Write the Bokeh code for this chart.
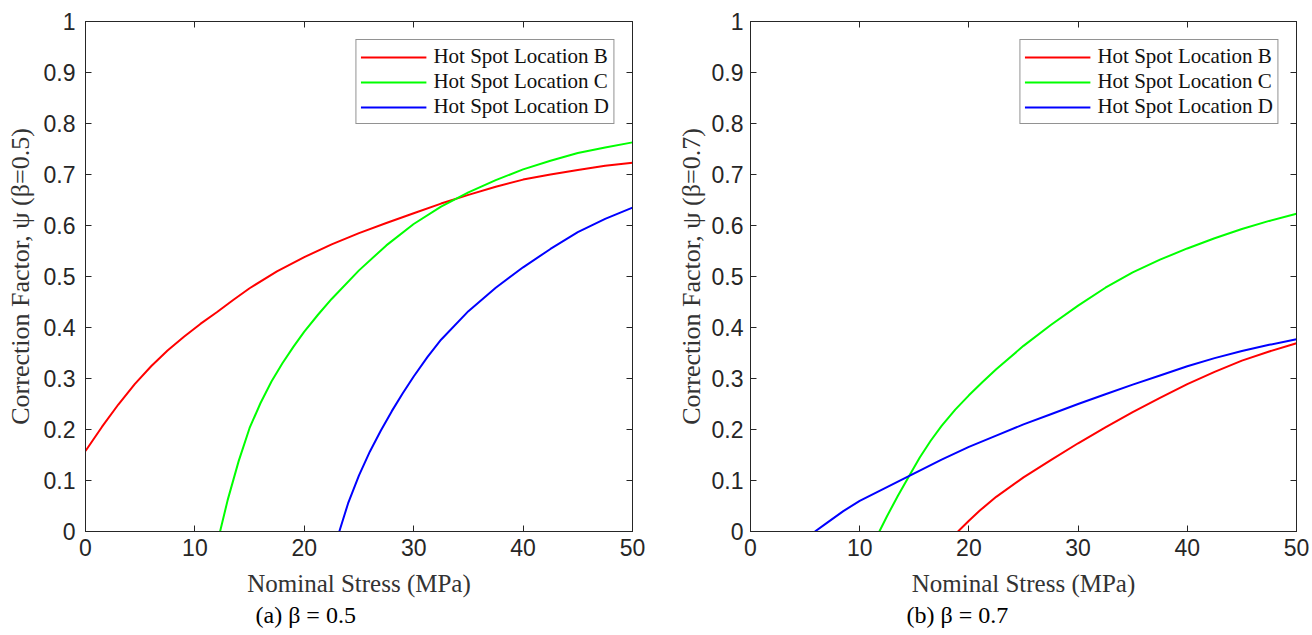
from bokeh.plotting import figure
from bokeh.models import LinearAxis, FixedTicker, Range1d, Title
from bokeh.layouts import row
from bokeh.embed import file_html
from bokeh.resources import INLINE

# ---------------- data ----------------
x_ticks = [0, 10, 20, 30, 40, 50]
x_tick_labels = ["0", "10", "20", "30", "40", "50"]
y_ticks = [0, 0.1, 0.2, 0.3, 0.4, 0.5, 0.6, 0.7, 0.8, 0.9, 1]
y_tick_labels = ["0", "0.1", "0.2", "0.3", "0.4", "0.5", "0.6", "0.7", "0.8", "0.9", "1"]

series_names = ["Hot Spot Location B", "Hot Spot Location C", "Hot Spot Location D"]
series_colors = ["#ff0000", "#00ff00", "#0000ff"]

# panel (a) beta = 0.5
a_B_x = [0, 1.5, 3, 4.5, 6, 7.5, 9, 10.5, 12, 13.5, 15, 17.5, 20, 22.5, 25, 27.5, 30,
         32.5, 35, 37.5, 40, 42.5, 45, 47.5, 50]
a_B_y = [0.158, 0.205, 0.249, 0.289, 0.324, 0.355, 0.382, 0.407, 0.430, 0.454, 0.477,
         0.510, 0.538, 0.563, 0.585, 0.605, 0.624, 0.643, 0.660, 0.676, 0.690, 0.700,
         0.709, 0.717, 0.723]
a_C_x = [12.3, 13, 14, 15, 16, 17, 18, 19, 20, 21.25, 22.5, 25, 27.5, 30, 32.5, 35,
         37.5, 40, 42.5, 45, 47.5, 50]
a_C_y = [0.0, 0.062, 0.138, 0.203, 0.252, 0.294, 0.330, 0.362, 0.392, 0.425, 0.456,
         0.512, 0.561, 0.603, 0.637, 0.665, 0.689, 0.710, 0.727, 0.742, 0.753, 0.763]
a_D_x = [23.2, 24, 25, 26, 27, 28, 29, 30, 31.25, 32.5, 35, 37.5, 40, 42.5, 45, 47.5, 50]
a_D_y = [0.0, 0.055, 0.110, 0.157, 0.198, 0.236, 0.271, 0.304, 0.342, 0.376, 0.432,
         0.478, 0.518, 0.554, 0.587, 0.613, 0.635]

# panel (b) beta = 0.7
b_B_x = [19, 20, 21, 22.5, 25, 27.5, 30, 32.5, 35, 37.5, 40, 42.5, 45, 47.5, 50]
b_B_y = [0.0, 0.021, 0.041, 0.068, 0.106, 0.140, 0.173, 0.204, 0.234, 0.262, 0.289,
         0.313, 0.335, 0.353, 0.369]
b_C_x = [11.8, 12.5, 13.5, 14.5, 15.5, 16.5, 17.5, 18.75, 20, 21.25, 22.5, 25, 27.5,
         30, 32.5, 35, 37.5, 40, 42.5, 45, 47.5, 50]
b_C_y = [0.0, 0.030, 0.070, 0.108, 0.145, 0.178, 0.207, 0.239, 0.267, 0.293, 0.318,
         0.364, 0.405, 0.443, 0.478, 0.508, 0.533, 0.555, 0.575, 0.593, 0.609, 0.623]
b_D_x = [5.9, 7, 8.5, 10, 12.5, 15, 17.5, 20, 22.5, 25, 27.5, 30, 32.5, 35, 37.5, 40,
         42.5, 45, 47.5, 50]
b_D_y = [0.0, 0.017, 0.040, 0.060, 0.087, 0.114, 0.141, 0.166, 0.188, 0.210, 0.230,
         0.250, 0.269, 0.288, 0.306, 0.324, 0.340, 0.354, 0.366, 0.377]

panels = [
    dict(series=[(a_B_x, a_B_y), (a_C_x, a_C_y), (a_D_x, a_D_y)],
         ylabel="Correction Factor, ψ (β=0.5)", caption="(a) β = 0.5", cap_offset=170,
         border_left=85, border_right=24, tick_standoff=10, label_standoff=6),
    dict(series=[(b_B_x, b_B_y), (b_C_x, b_C_y), (b_D_x, b_D_y)],
         ylabel="Correction Factor, ψ (β=0.7)", caption="(b) β = 0.7", cap_offset=156,
         border_left=94, border_right=16, tick_standoff=7, label_standoff=3),
]

AX = "#262626"
SANS = "Liberation Sans"
SERIF = "Liberation Serif"


def style_axis(ax, show_labels):
    ax.axis_line_color = AX
    ax.axis_line_width = 1
    ax.major_tick_line_color = AX
    ax.major_tick_in = 6
    ax.major_tick_out = 0
    ax.minor_tick_line_color = None
    if show_labels:
        ax.major_label_text_font = SANS
        ax.major_label_text_font_size = "23px"
        ax.major_label_text_color = AX
    else:
        ax.major_label_text_font_size = "1px"
        ax.major_label_text_color = None
        ax.major_label_standoff = 0


figs = []
for pan in panels:
    p = figure(width=656, height=635, output_backend="svg", toolbar_location=None,
               x_range=Range1d(0, 50), y_range=Range1d(0, 1),
               min_border_left=pan["border_left"], min_border_right=pan["border_right"],
               min_border_top=21, min_border_bottom=104)
    p.grid.visible = False
    p.outline_line_color = AX
    p.outline_line_width = 1
    p.background_fill_color = "white"
    p.border_fill_color = "white"

    for (xs, ys), name, col in zip(pan["series"], series_names, series_colors):
        p.line(xs, ys, line_color=col, line_width=2, legend_label=name)

    # main axes
    style_axis(p.xaxis[0], True)
    style_axis(p.yaxis[0], True)
    p.xaxis.ticker = FixedTicker(ticks=x_ticks)
    p.yaxis.ticker = FixedTicker(ticks=y_ticks)
    p.xaxis.major_label_overrides = dict(zip(x_ticks, x_tick_labels))
    p.yaxis.major_label_overrides = dict(zip(y_ticks, y_tick_labels))
    p.xaxis.major_label_standoff = 7
    p.yaxis.major_label_standoff = pan["tick_standoff"]
    p.xaxis.axis_label = "Nominal Stress (MPa)"
    p.yaxis.axis_label = pan["ylabel"]
    p.xaxis.axis_label_text_font_size = "25px"
    p.yaxis.axis_label_text_font_size = "26px"
    for ax in (p.xaxis[0], p.yaxis[0]):
        ax.axis_label_text_font = SERIF
        ax.axis_label_text_font_style = "normal"
        ax.axis_label_text_color = "#333333"
    p.xaxis.axis_label_standoff = 11
    p.yaxis.axis_label_standoff = pan["label_standoff"]

    # mirrored tick axes (box on)
    top = LinearAxis(ticker=FixedTicker(ticks=x_ticks))
    style_axis(top, False)
    p.add_layout(top, "above")
    right = LinearAxis(ticker=FixedTicker(ticks=y_ticks))
    style_axis(right, False)
    p.add_layout(right, "right")

    # legend
    lg = p.legend[0]
    lg.location = "top_right"
    lg.margin = 18
    lg.padding = 4
    lg.spacing = 0
    lg.glyph_width = 66
    lg.glyph_height = 20
    lg.label_height = 20
    lg.label_standoff = 7
    lg.label_text_font = SERIF
    lg.label_text_font_size = "21px"
    lg.label_text_color = "#111111"
    lg.border_line_color = AX
    lg.border_line_width = 1
    lg.background_fill_alpha = 1

    # caption below the panel
    cap = Title(text=pan["caption"], align="left", offset=pan["cap_offset"],
                text_font=SERIF, text_font_size="24px", text_font_style="normal",
                text_color="#000000", standoff=0)
    p.add_layout(cap, "below")
    figs.append(p)

layout = row(*figs)
open("out.html", "w").write(file_html(layout, INLINE))
